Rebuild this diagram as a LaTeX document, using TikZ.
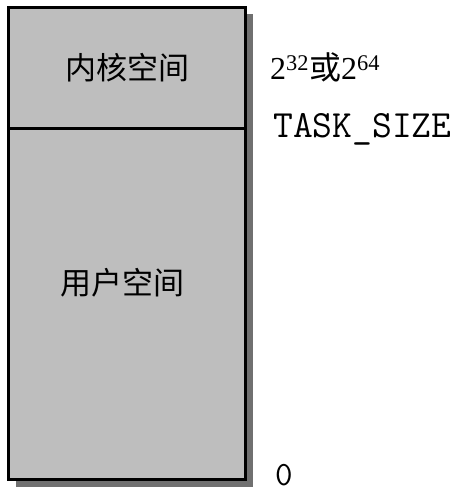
\documentclass[tikz,border=0pt]{standalone}
\usepackage{fontspec}
\setmainfont{Liberation Serif}
\newfontfamily\cjk{Noto Sans CJK SC}
\usetikzlibrary{positioning,shadows}
\definecolor{memgray}{RGB}{190,190,190}
\definecolor{shadowgray}{RGB}{112,112,112}

\begin{document}
\begin{tikzpicture}[x=1pt,y=-1pt,
  memblock/.style={draw=black, line width=3pt, fill=memgray, inner sep=0pt, outer sep=0pt,
    minimum width=237pt, drop shadow={shadow xshift=7pt, shadow yshift=-7pt, fill=shadowgray, opacity=1}},
  spacename/.style={font=\cjk\fontsize{31}{31}\selectfont},
  addr/.style={inner sep=0pt, anchor=base west}]
  \useasboundingbox (0,0) rectangle (460,492);

  \node[memblock, spacename, minimum height=121pt, anchor=north west] (kernel) at (8.5,7.5) {内核空间};
  \node[memblock, minimum height=351pt, below=0pt of kernel] (user) {};
  \node[spacename, inner sep=0pt] (userlabel) at (122,283) {用户空间};

  % addresses
  \node[addr, font=\fontsize{32}{32}\selectfont] (top) at (270,80) {2\textsuperscript{32}{\cjk 或}2\textsuperscript{64}};
  \node[addr, font=\ttfamily\fontsize{38.5}{38.5}\selectfont] (tasksize) at (273,137) {TASK\_SIZE};
  \node[addr, font=\ttfamily\fontsize{34}{34}\selectfont] (zero) at (275,485) {0};
\end{tikzpicture}
\end{document}
